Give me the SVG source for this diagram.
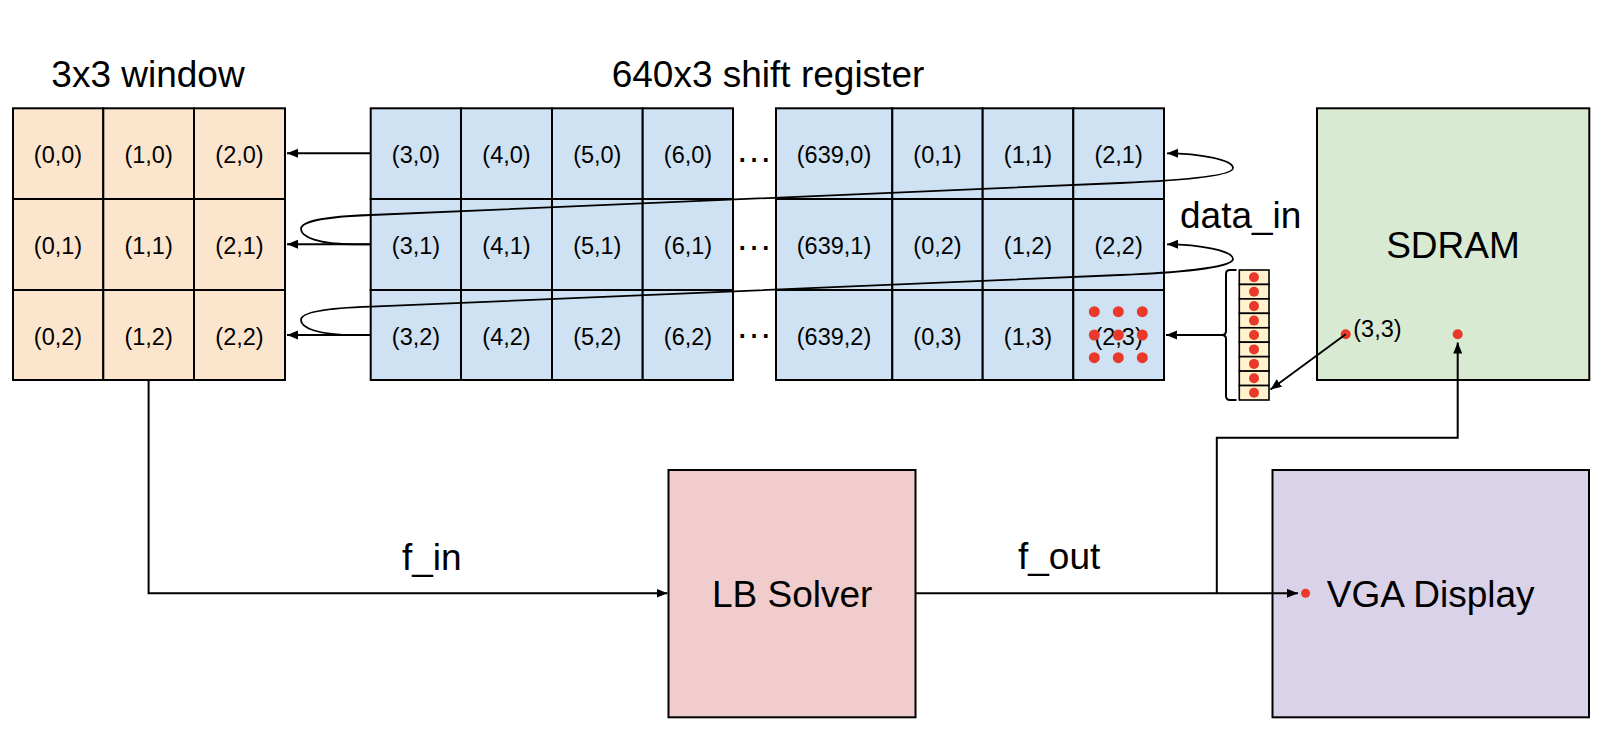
<svg xmlns="http://www.w3.org/2000/svg" width="1604" height="746" viewBox="0 0 1604 746">
<defs>
<style>
.c{stroke:#000;stroke-width:2}
.w{fill:#fce5cd}
.b{fill:#cfe2f3}
.t{font-family:"Liberation Sans",Arial,sans-serif;font-size:23.5px;fill:#000;text-anchor:middle}
.big{font-family:"Liberation Sans",Arial,sans-serif;font-size:37px;fill:#000}
.mid{text-anchor:middle}
.ln{fill:none;stroke:#000;stroke-width:2}
.cv{fill:none;stroke:#000;stroke-width:1.8}
.rd{fill:#e8392b}
</style>
<marker id="ah" markerUnits="userSpaceOnUse" markerWidth="12" markerHeight="10" refX="11" refY="4.5" orient="auto">
<path d="M0,0 L11,4.5 L0,9 z" fill="#000"/>
</marker>
</defs>
<rect width="1604" height="746" fill="#fff"/>

<text class="big mid" x="148" y="87">3x3 window</text>
<text class="big mid" x="768" y="87">640x3 shift register</text>

<g id="window">
<rect class="c w" x="13" y="108.3" width="90.3" height="90.7"/>
<rect class="c w" x="103.3" y="108.3" width="90.7" height="90.7"/>
<rect class="c w" x="194" y="108.3" width="91" height="90.7"/>
<rect class="c w" x="13" y="199" width="90.3" height="91"/>
<rect class="c w" x="103.3" y="199" width="90.7" height="91"/>
<rect class="c w" x="194" y="199" width="91" height="91"/>
<rect class="c w" x="13" y="290" width="90.3" height="90"/>
<rect class="c w" x="103.3" y="290" width="90.7" height="90"/>
<rect class="c w" x="194" y="290" width="91" height="90"/>
<text class="t" x="58" y="163">(0,0)</text>
<text class="t" x="148.6" y="163">(1,0)</text>
<text class="t" x="239.5" y="163">(2,0)</text>
<text class="t" x="58" y="254">(0,1)</text>
<text class="t" x="148.6" y="254">(1,1)</text>
<text class="t" x="239.5" y="254">(2,1)</text>
<text class="t" x="58" y="345">(0,2)</text>
<text class="t" x="148.6" y="345">(1,2)</text>
<text class="t" x="239.5" y="345">(2,2)</text>
</g>

<g id="shift1">
<rect class="c b" x="370.7" y="108.3" width="90.3" height="90.7"/>
<rect class="c b" x="461" y="108.3" width="91" height="90.7"/>
<rect class="c b" x="552" y="108.3" width="90.7" height="90.7"/>
<rect class="c b" x="642.7" y="108.3" width="90.3" height="90.7"/>
<rect class="c b" x="370.7" y="199" width="90.3" height="91"/>
<rect class="c b" x="461" y="199" width="91" height="91"/>
<rect class="c b" x="552" y="199" width="90.7" height="91"/>
<rect class="c b" x="642.7" y="199" width="90.3" height="91"/>
<rect class="c b" x="370.7" y="290" width="90.3" height="90"/>
<rect class="c b" x="461" y="290" width="91" height="90"/>
<rect class="c b" x="552" y="290" width="90.7" height="90"/>
<rect class="c b" x="642.7" y="290" width="90.3" height="90"/>
<text class="t" x="416" y="163">(3,0)</text>
<text class="t" x="506.5" y="163">(4,0)</text>
<text class="t" x="597.3" y="163">(5,0)</text>
<text class="t" x="688" y="163">(6,0)</text>
<text class="t" x="416" y="254">(3,1)</text>
<text class="t" x="506.5" y="254">(4,1)</text>
<text class="t" x="597.3" y="254">(5,1)</text>
<text class="t" x="688" y="254">(6,1)</text>
<text class="t" x="416" y="345">(3,2)</text>
<text class="t" x="506.5" y="345">(4,2)</text>
<text class="t" x="597.3" y="345">(5,2)</text>
<text class="t" x="688" y="345">(6,2)</text>
</g>

<g id="ellipsis">
<text class="big mid" x="754" y="162">…</text>
<text class="big mid" x="754" y="250">…</text>
<text class="big mid" x="754" y="338">…</text>
</g>

<g id="shift2">
<rect class="c b" x="776" y="108.3" width="116.3" height="90.7"/>
<rect class="c b" x="892.3" y="108.3" width="90.4" height="90.7"/>
<rect class="c b" x="982.7" y="108.3" width="90.6" height="90.7"/>
<rect class="c b" x="1073.3" y="108.3" width="90.7" height="90.7"/>
<rect class="c b" x="776" y="199" width="116.3" height="91"/>
<rect class="c b" x="892.3" y="199" width="90.4" height="91"/>
<rect class="c b" x="982.7" y="199" width="90.6" height="91"/>
<rect class="c b" x="1073.3" y="199" width="90.7" height="91"/>
<rect class="c b" x="776" y="290" width="116.3" height="90"/>
<rect class="c b" x="892.3" y="290" width="90.4" height="90"/>
<rect class="c b" x="982.7" y="290" width="90.6" height="90"/>
<rect class="c b" x="1073.3" y="290" width="90.7" height="90"/>
<text class="t" x="834" y="163">(639,0)</text>
<text class="t" x="937.5" y="163">(0,1)</text>
<text class="t" x="1028" y="163">(1,1)</text>
<text class="t" x="1118.6" y="163">(2,1)</text>
<text class="t" x="834" y="254">(639,1)</text>
<text class="t" x="937.5" y="254">(0,2)</text>
<text class="t" x="1028" y="254">(1,2)</text>
<text class="t" x="1118.6" y="254">(2,2)</text>
<text class="t" x="834" y="345">(639,2)</text>
<text class="t" x="937.5" y="345">(0,3)</text>
<text class="t" x="1028" y="345">(1,3)</text>
<text class="t" x="1118.6" y="345">(2,3)</text>
<g id="window-dots">
<circle class="rd" cx="1094.3" cy="311.7" r="5.5"/>
<circle class="rd" cx="1118.3" cy="311.7" r="5.5"/>
<circle class="rd" cx="1142.3" cy="311.7" r="5.5"/>
<circle class="rd" cx="1094.3" cy="335" r="5.5"/>
<circle class="rd" cx="1118.3" cy="335" r="5.5"/>
<circle class="rd" cx="1142.3" cy="335" r="5.5"/>
<circle class="rd" cx="1094.3" cy="357.7" r="5.5"/>
<circle class="rd" cx="1118.3" cy="357.7" r="5.5"/>
<circle class="rd" cx="1142.3" cy="357.7" r="5.5"/>
</g>
</g>

<g id="data-in">
<text class="big" x="1180" y="228">data_in</text>
<path class="ln" d="M1236.5,270 L1230,270 Q1226,270 1226,274 L1226,331 Q1226,335 1222,335 Q1226,335 1226,339 L1226,396 Q1226,400 1230,400 L1236.5,400"/>
<g fill="#fff2cc" stroke="#000" stroke-width="1.6">
<rect x="1239.3" y="270" width="29.7" height="14.44"/>
<rect x="1239.3" y="284.44" width="29.7" height="14.44"/>
<rect x="1239.3" y="298.89" width="29.7" height="14.44"/>
<rect x="1239.3" y="313.33" width="29.7" height="14.44"/>
<rect x="1239.3" y="327.78" width="29.7" height="14.44"/>
<rect x="1239.3" y="342.22" width="29.7" height="14.44"/>
<rect x="1239.3" y="356.67" width="29.7" height="14.44"/>
<rect x="1239.3" y="371.11" width="29.7" height="14.44"/>
<rect x="1239.3" y="385.56" width="29.7" height="14.44"/>
</g>
<circle class="rd" cx="1254" cy="277.2" r="5"/>
<circle class="rd" cx="1254" cy="291.7" r="5"/>
<circle class="rd" cx="1254" cy="306.1" r="5"/>
<circle class="rd" cx="1254" cy="320.6" r="5"/>
<circle class="rd" cx="1254" cy="335" r="5"/>
<circle class="rd" cx="1254" cy="349.4" r="5"/>
<circle class="rd" cx="1254" cy="363.9" r="5"/>
<circle class="rd" cx="1254" cy="378.3" r="5"/>
<circle class="rd" cx="1254" cy="392.8" r="5"/>
</g>

<g id="sdram">
<rect class="c" fill="#d9ead3" x="1317" y="108.3" width="272.3" height="271.7"/>
<text class="big mid" x="1453" y="257.7">SDRAM</text>
<circle class="rd" cx="1345.7" cy="334.3" r="5"/>
<circle class="rd" cx="1457.7" cy="334.3" r="5"/>
<text class="t" style="text-anchor:start" x="1353.3" y="336.7">(3,3)</text>
</g>

<g id="lb-solver">
<rect class="c" fill="#f0cdcc" x="668.5" y="470" width="247" height="247.3"/>
<text class="big mid" x="792.2" y="606.7">LB Solver</text>
</g>

<g id="vga">
<rect class="c" fill="#d9d2e9" x="1272.5" y="470" width="316.5" height="247.3"/>
<text class="big mid" x="1430.7" y="606.7">VGA Display</text>
<circle class="rd" cx="1305.6" cy="593.3" r="4.5"/>
</g>

<g id="connectors">
<line class="ln" x1="370.7" y1="153.3" x2="287" y2="153.3" marker-end="url(#ah)"/>
<line class="ln" x1="370.7" y1="244.3" x2="287" y2="244.3" marker-end="url(#ah)"/>
<line class="ln" x1="370.7" y1="335" x2="287" y2="335" marker-end="url(#ah)"/>
<path class="cv" d="M370.7,244.3 L355,244.3 C318,244 301,237 301,229 C301,221 330,216.3 371,215 L1120,183 C1170,180.9 1233,177 1233,168 C1233,160 1200,153.3 1167,153.3" marker-end="url(#ah)"/>
<path class="cv" d="M370.7,335 L355,335 C318,335 301,328 301,320 C301,312 330,308 371,306.7 L1120,275 C1170,273 1233,268 1233,259 C1233,251 1200,244.3 1167,244.3" marker-end="url(#ah)"/>
<line class="ln" x1="1222" y1="335" x2="1166" y2="335" marker-end="url(#ah)"/>
<line class="ln" x1="1345.7" y1="334.3" x2="1270.5" y2="389.5" marker-end="url(#ah)"/>
<path class="ln" d="M148.6,380 L148.6,593.3 L667.5,593.3" marker-end="url(#ah)"/>
<path class="ln" d="M915.5,593.3 L1298,593.3" marker-end="url(#ah)"/>
<path class="ln" d="M1216.8,593.3 L1216.8,437.7 L1457.7,437.7 L1457.7,342.5" marker-end="url(#ah)"/>
<text class="big" x="402" y="570">f_in</text>
<text class="big" x="1018" y="569">f_out</text>
</g>
</svg>
